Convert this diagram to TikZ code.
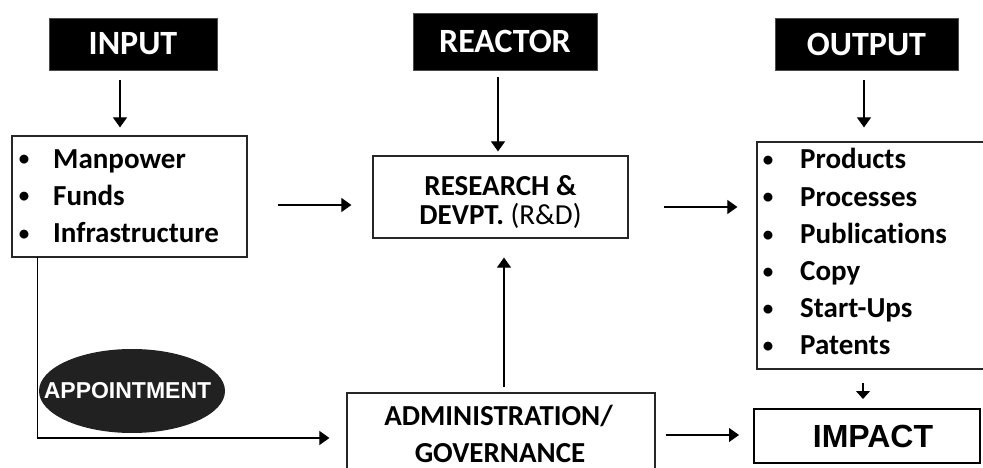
\documentclass[tikz,border=0pt]{standalone}
\usepackage{fontspec}
\setmainfont{Carlito}[Ligatures=NoCommon]
\newfontfamily\arialfont{Liberation Sans}
\usetikzlibrary{arrows.meta,calc,shapes.geometric}
\begin{document}
\begin{tikzpicture}[x=1pt,y=-1pt,
  head/.style={fill=black, draw=black!70, line width=0.8pt, text=white,
    font=\fontsize{34}{34}\selectfont\bfseries, inner sep=0pt},
  box/.style={draw=black!85, line width=1.2pt, inner sep=0pt},
  txt/.style={font=\fontsize{29}{29}\selectfont\bfseries, inner sep=0pt},
  dot/.style={font=\fontsize{21}{21}\selectfont\bfseries, inner sep=0pt, anchor=base},
  arr/.style={-{Triangle[length=10pt,width=14pt]}, line width=1.1pt},
  smallarr/.style={-{Triangle[length=8pt,width=14pt]}, line width=1.1pt}]
\useasboundingbox (0,0) rectangle (983,468);
\clip (0,0) rectangle (983,468);

% column headers
\node[head, minimum width=168pt, minimum height=52pt] (inp) at (133,44) {INPUT};
\node[head, minimum width=184pt, minimum height=57pt] (rea) at (505,41.5) {REACTOR};
\node[head, minimum width=183pt, minimum height=52pt] (out) at (866.5,44) {OUTPUT};

% input list
\node[box, minimum width=235pt, minimum height=121pt] (inlist) at (129.5,196.5) {};
\foreach \t [count=\i] in {Manpower,Funds,Infrastructure}{
  \node[dot] (inb\i) at (24,{166+37*(\i-1)}) {\textbullet};
  \node[txt, anchor=base west] (int\i) at (53,{168+37*(\i-1)}) {\t};
}

% research and development
\node[box, minimum width=255pt, minimum height=82pt] (rd) at (500.5,197) {};
\node[txt, anchor=base] (rd1) at (500.5,196) {RESEARCH \&};
\node[txt, anchor=base] (rd2) at (500.5,224) {DEVPT. {\mdseries (R\&D)}};

% output list
\node[box, minimum width=250pt, minimum height=227pt] (outlist) at (882,255.5) {};
\foreach \t [count=\i] in {Products,Processes,Publications,Copy,Start-Ups,Patents}{
  \node[dot] (outb\i) at (768,{167+37*(\i-1)}) {\textbullet};
  \node[txt, anchor=base west] (outt\i) at (800,{169+37*(\i-1)}) {\t};
}

% administration
\node[box, minimum width=308pt, minimum height=90pt] (adm) at (501,438) {};
\node[txt, anchor=base] (adm1) at (498.5,425) {ADMINISTRATION/};
\node[txt, anchor=base] (adm2) at (500,462) {GOVERNANCE};

% impact
\node[draw=black, line width=2pt, inner sep=0pt, minimum width=226pt, minimum height=54pt] (imp) at (867,436) {};
\node[font=\arialfont\bfseries\fontsize{32}{32}\selectfont, inner sep=0pt, anchor=base] (imptxt) at (873,447) {IMPACT};

% connectors
\draw[arr, shorten <=10pt, shorten >=8pt] ([xshift=-13pt]inp.south) -- ([xshift=-9.5pt]inlist.north);
\draw[arr, shorten <=7pt, shorten >=4pt] ([xshift=-7pt]rea.south) -- ([xshift=-2.5pt]rd.north);
\draw[arr, shorten <=10pt, shorten >=14pt] ([xshift=-2.5pt]out.south) -- ([xshift=-18pt]outlist.north);
\draw[arr, shorten <=30pt, shorten >=21pt] ($(inlist.east)+(0,8.5)$) -- ($(rd.west)+(0,8)$);
\draw[arr, shorten <=35pt, shorten >=19pt] ($(rd.east)+(0,10)$) -- ($(outlist.west)+(0,-48.5)$);
\draw[arr, shorten <=5pt, shorten >=19pt] ([xshift=3pt]adm.north) -- ([xshift=3.5pt]rd.south);
\draw[arr, shorten <=10pt, shorten >=14pt] ($(adm.east)+(0,-3)$) -- ($(imp.west)+(0,-1)$);
\draw[smallarr, shorten <=13pt, shorten >=9pt] ([xshift=-19pt]outlist.south) -- ([xshift=-4pt]imp.north);
\draw[arr, shorten >=17pt] ($(inlist.south west)+(26,-1)$) |- (adm.west);

% appointment label on the feed line
\node[ellipse, fill=black!87, inner sep=0pt, minimum width=186pt, minimum height=84pt] (app) at (132,391) {};
\node[font=\arialfont\bfseries\fontsize{23}{23}\selectfont, text=white, inner sep=0pt, anchor=base] (apptxt) at (127.5,398) {APPOINTMENT};
\end{tikzpicture}
\end{document}
